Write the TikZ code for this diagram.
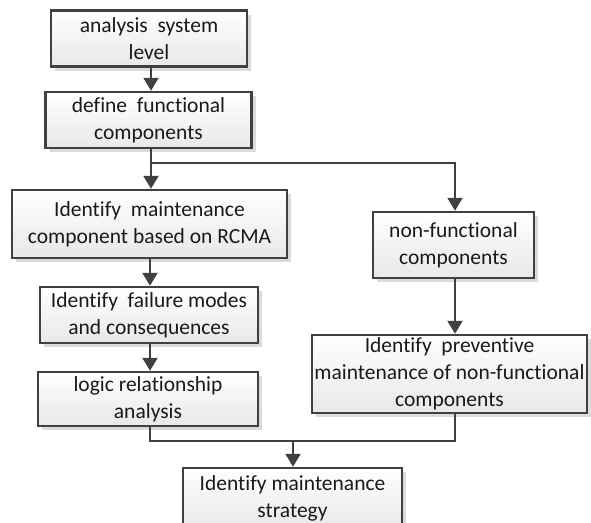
\documentclass[tikz,border=0pt]{standalone}
\usepackage{fontspec}
\setmainfont[Ligatures=NoCommon]{Carlito}
\usetikzlibrary{arrows.meta,shadows,calc}
\definecolor{edge}{HTML}{404040}
\tikzset{
  box/.style={draw=edge, line width=2.5pt, rectangle, align=center,
    top color=white, bottom color=black!9,
    drop shadow={shadow xshift=4pt, shadow yshift=-4pt, fill=black!14, opacity=1},
    font=\fontsize{21.5}{27}\selectfont, inner sep=0pt, text=black!90},
  flow/.style={draw=edge, line width=2.3pt, -{Triangle[length=13pt,width=15pt]}},
  link/.style={draw=edge, line width=2.3pt}
}
\begin{document}
\begin{tikzpicture}[x=1pt,y=-1pt]
  \useasboundingbox[fill=white] (0,0) rectangle (591,522);
  % main column
  \node[box, minimum width=196pt, minimum height=56pt] (b1) at (149,38.5) {analysis\ \ system\\level};
  \node[box, minimum width=206pt, minimum height=56pt] (b2) at (148.5,120) {define\ \ functional\\components};
  \node[box, minimum width=275pt, minimum height=68pt] (b3) at (149.5,224) {Identify\ \ maintenance\\component based on RCMA};
  \node[box, minimum width=218pt, minimum height=56pt] (b4) at (149,315) {Identify\ \ failure modes\\and consequences};
  \node[box, minimum width=220pt, minimum height=54pt] (b5) at (148,399) {logic relationship\\analysis};
  % side column
  \node[box, minimum width=161pt, minimum height=66pt] (b6) at (453.5,245) {non-functional\\components};
  \node[box, minimum width=275pt, minimum height=78pt] (b7) at (449.5,374) {Identify\ \ preventive\\maintenance of non-functional\\components};
  % final step
  \node[box, minimum width=219pt, minimum height=60pt] (b8) at (292.5,498) {Identify maintenance\\strategy};
  % junctions
  \coordinate (j1) at (151,163);
  \coordinate (j2) at (455,163);
  \coordinate (j3) at (150,441);
  \coordinate (j4) at (455,441);
  \coordinate (j5) at (293,441);
  % connectors
  \draw[flow] (b1.south -| j1) -- (b2.north -| j1);
  \draw[link] (b2.south -| j1) -- (j1);
  \draw[flow] (j1) -- (b3.north -| j1);
  \draw[flow] (j1) -- (j2) -- (b6.north -| j2);
  \draw[flow] (b3.south -| j3) -- (b4.north -| j3);
  \draw[flow] (b4.south -| j3) -- (b5.north -| j3);
  \draw[flow] (b6.south -| j2) -- (b7.north -| j2);
  \draw[link] (b5.south -| j3) -- (j3) -- (j4) -- (b7.south -| j4);
  \draw[flow] (j5) -- (b8.north -| j5);
\end{tikzpicture}
\end{document}
